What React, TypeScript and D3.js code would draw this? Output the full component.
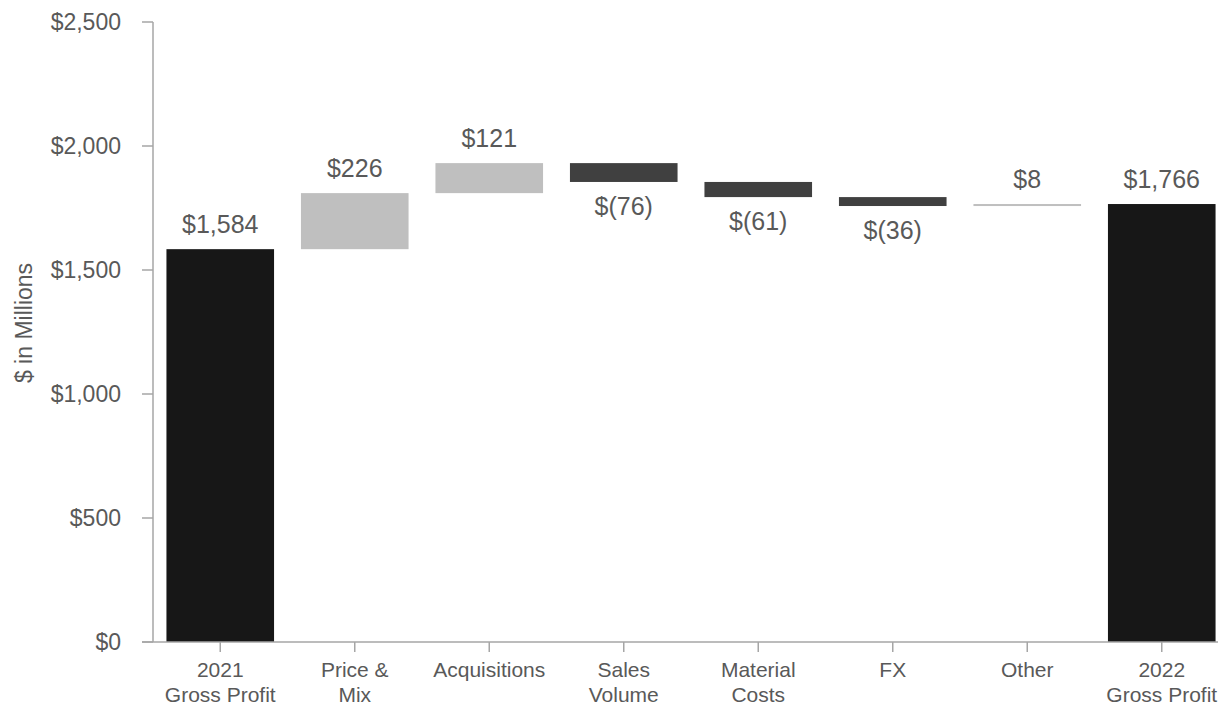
import React from 'react';
import * as d3 from 'd3';

// Waterfall: 2021 -> 2022 gross profit bridge ($ in millions)
const categories: string[][] = [
  ['2021', 'Gross Profit'],
  ['Price &', 'Mix'],
  ['Acquisitions'],
  ['Sales', 'Volume'],
  ['Material', 'Costs'],
  ['FX'],
  ['Other'],
  ['2022', 'Gross Profit'],
];
const values = [1584, 226, 121, -76, -61, -36, 8, 1766];
const isTotal = [true, false, false, false, false, false, false, true];
const valueLabels = ['$1,584', '$226', '$121', '$(76)', '$(61)', '$(36)', '$8', '$1,766'];
const yTicks = [0, 500, 1000, 1500, 2000, 2500];

const W = 1221;
const H = 705;
const margin = { top: 22, right: -8, bottom: 63, left: 153 };

const TEXT = '#595959';
const AXIS = '#a6a6a6';

const fmtTick = (v: number) => '$' + d3.format(',')(v);

const App: React.FC = () => {
  const y = d3.scaleLinear().domain([0, 2500]).range([H - margin.bottom, margin.top]);
  const x = d3
    .scaleBand<number>()
    .domain(d3.range(categories.length))
    .range([margin.left, W - margin.right])
    .paddingInner(0.2)
    .paddingOuter(0.1);

  // running totals for floating bars
  let running = 0;
  const bars = values.map((v, i) => {
    let lo: number, hi: number;
    if (isTotal[i]) {
      lo = 0;
      hi = v;
      running = v;
    } else {
      const start = running;
      running = start + v;
      lo = Math.min(start, running);
      hi = Math.max(start, running);
    }
    const fill = isTotal[i] ? '#171717' : v >= 0 ? '#bfbfbf' : '#404040';
    return { i, lo, hi, v, fill };
  });

  const y0 = y(0);
  const xEnd = W - 3;

  return (
    <div style={{ position: 'absolute', left: 0, top: 0 }}>
      <svg width={W} height={H} style={{ display: 'block', fontFamily: '"Liberation Sans", Arial, sans-serif' }}>
        <rect width={W} height={H} fill="#ffffff" />

        {/* bars */}
        {bars.map((b) => (
          <rect
            key={b.i}
            x={x(b.i)}
            y={y(b.hi)}
            width={x.bandwidth()}
            height={Math.max(2, y(b.lo) - y(b.hi))}
            fill={b.fill}
          />
        ))}

        {/* value labels */}
        {bars.map((b) => {
          const cx = (x(b.i) as number) + x.bandwidth() / 2;
          const neg = b.v < 0;
          const ty = neg ? y(b.lo) + 33 : y(b.hi) - 16;
          return (
            <text key={'l' + b.i} x={cx} y={ty} textAnchor="middle" fontSize={25} fill={TEXT}>
              {valueLabels[b.i]}
            </text>
          );
        })}

        {/* y axis */}
        <line x1={margin.left} x2={margin.left} y1={y(2500)} y2={y0} stroke={AXIS} strokeWidth={1.5} />
        {yTicks.map((t) => (
          <g key={t}>
            <line x1={margin.left - 11} x2={margin.left} y1={y(t)} y2={y(t)} stroke={AXIS} strokeWidth={1.5} />
            <text x={121} y={y(t)} dy="0.35em" textAnchor="end" fontSize={23} fill={TEXT}>
              {fmtTick(t)}
            </text>
          </g>
        ))}

        {/* x axis */}
        <line x1={margin.left - 11} x2={xEnd} y1={y0} y2={y0} stroke={AXIS} strokeWidth={1.5} />
        {categories.map((c, i) => {
          const cx = (x(i) as number) + x.bandwidth() / 2;
          return (
            <g key={'c' + i}>
              <line x1={cx} x2={cx} y1={y0} y2={y0 + 10} stroke={AXIS} strokeWidth={1.5} />
              <text x={cx} y={677} textAnchor="middle" fontSize={21} fill={TEXT}>
                {c.map((line, k) => (
                  <tspan key={k} x={cx} dy={k === 0 ? 0 : 25}>
                    {line}
                  </tspan>
                ))}
              </text>
            </g>
          );
        })}

        {/* y axis title */}
        <text
          transform={`translate(32,323) rotate(-90)`}
          textAnchor="middle"
          fontSize={23}
          fill={TEXT}
        >
          $ in Millions
        </text>
      </svg>
    </div>
  );
};

export default App;
